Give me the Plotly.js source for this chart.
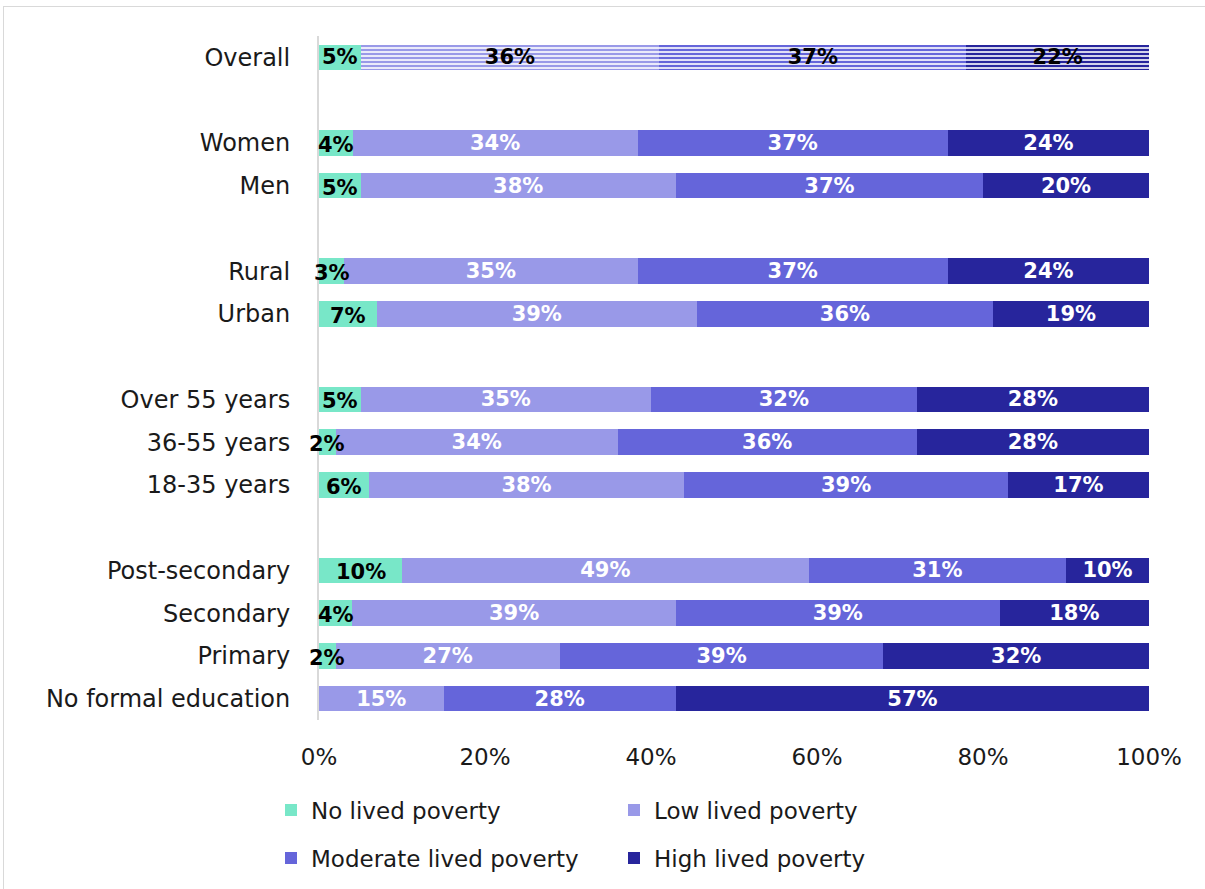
<!DOCTYPE html>
<html>
<head>
<meta charset="utf-8">
<script src="https://cdn.plot.ly/plotly-3.0.1.min.js"></script>
<style>
  html, body { margin: 0; padding: 0; background: #fff; }
  #wrap { position: relative; width: 1205px; height: 889px; overflow: hidden; }
  #frame { position: absolute; left: 3px; top: 6px; width: 1300px; height: 1000px; border-left: 1px solid #d9d9d9; border-top: 1px solid #d9d9d9; pointer-events: none; }
  #chart { position: absolute; left: 0; top: 0; width: 1205px; height: 889px; }
</style>
</head>
<body>
<div id="wrap">
  <div id="chart"></div>
  <div id="frame"></div>
</div>
<script>
// Categories (top to bottom); blank strings are group separators
const categories = ["Overall", " ", "Women", "Men", "  ", "Rural", "Urban", "   ",
  "Over 55 years", "36-55 years", "18-35 years", "    ",
  "Post-secondary", "Secondary", "Primary", "No formal education"];

const rowLabels = ["Overall", "Women", "Men", "Rural", "Urban",
  "Over 55 years", "36-55 years", "18-35 years",
  "Post-secondary", "Secondary", "Primary", "No formal education"];

const noPoverty       = [5, 4, 5, 3, 7, 5, 2, 6, 10, 4, 2, 0];
const lowPoverty      = [36, 34, 38, 35, 39, 35, 34, 38, 49, 39, 27, 15];
const moderatePoverty = [37, 37, 37, 37, 36, 32, 36, 39, 31, 39, 39, 28];
const highPoverty     = [22, 24, 20, 24, 19, 28, 28, 17, 10, 18, 32, 57];

const seriesNames = ["No lived poverty", "Low lived poverty", "Moderate lived poverty", "High lived poverty"];
const seriesColors = ["#78E7C8", "#9999E8", "#6565DA", "#27259C"];
const seriesValues = [noPoverty, lowPoverty, moderatePoverty, highPoverty];
const seriesLegend = ["legend", "legend", "legend2", "legend2"];

const xTickVals = [0, 20, 40, 60, 80, 100];
const xTickText = ["0%", "20%", "40%", "60%", "80%", "100%"];

const FONT = "DejaVu Sans, sans-serif";
const LABEL_SIZE = 21;
const traces = [];

// Main (solid) traces: all rows except Overall
seriesValues.forEach((vals, s) => {
  const ys = rowLabels.slice(1);
  const xs = vals.slice(1);
  traces.push({
    type: "bar", orientation: "h",
    name: seriesNames[s],
    legend: seriesLegend[s],
    y: ys, x: xs,
    // first series' labels are drawn as annotations on top so they can overlap the next segment
    text: s === 0 ? xs.map(() => "") : xs.map(v => v > 0 ? v + "%" : ""),
    textposition: "inside",
    insidetextanchor: "middle",
    constraintext: "none",
    textangle: 0,
    cliponaxis: false,
    textfont: { family: FONT, size: LABEL_SIZE, color: "#fff", weight: "bold" },
    marker: { color: seriesColors[s], line: { width: 0 } },
    hoverinfo: "skip"
  });
});

// Overall row (striped pattern, black labels)
seriesValues.forEach((vals, s) => {
  traces.push({
    type: "bar", orientation: "h",
    name: seriesNames[s],
    showlegend: false,
    y: [rowLabels[0]], x: [vals[0]],
    text: [vals[0] + "%"],
    textposition: "inside",
    insidetextanchor: "middle",
    constraintext: "none",
    textangle: 0,
    cliponaxis: false,
    textfont: { family: FONT, size: LABEL_SIZE, color: "#000", weight: "bold" },
    marker: s === 0
      ? { color: seriesColors[s], line: { width: 0 } }
      : { color: seriesColors[s], line: { width: 0 },
          pattern: { shape: "-", fillmode: "replace", bgcolor: "#ffffff", fgcolor: seriesColors[s], size: 4, solidity: 0.6 } },
    hoverinfo: "skip"
  });
});

// Labels of the "No lived poverty" segments, centred on the (normalised) segment
const totals = rowLabels.map((_, i) => seriesValues.reduce((a, arr) => a + arr[i], 0));
const noIdx = rowLabels.map((_, i) => i).filter(i => i > 0 && noPoverty[i] > 0);
const annotations = noIdx.map(i => ({
  xref: "x", yref: "y",
  x: noPoverty[i] / totals[i] * 100 / 2,
  y: rowLabels[i],
  text: noPoverty[i] + "%",
  showarrow: false,
  xanchor: "center", yanchor: "middle",
  yshift: -2,
  font: { family: FONT, size: LABEL_SIZE, color: "#000", weight: "bold" }
}));

const legendCommon = {
  orientation: "h",
  xref: "container", yref: "container",
  x: 271 / 1205, xanchor: "left",
  yanchor: "middle",
  entrywidth: 298, entrywidthmode: "pixels",
  font: { family: FONT, size: 23, color: "#1a1a1a" },
  traceorder: "normal",
  itemwidth: 30,
  bgcolor: "rgba(0,0,0,0)"
};

const layout = {
  width: 1205, height: 889,
  barmode: "stack",
  barnorm: "percent",
  bargap: 0.4,
  paper_bgcolor: "#fff", plot_bgcolor: "#fff",
  margin: { l: 319, r: 56, t: 36, b: 169 },
  font: { family: FONT, size: 23, color: "#1a1a1a" },
  xaxis: {
    range: [0, 100],
    tickvals: xTickVals, ticktext: xTickText,
    showgrid: false, zeroline: false, showline: false,
    ticks: "outside", ticklen: 16, tickcolor: "rgba(0,0,0,0)",
    tickfont: { family: FONT, size: 23, color: "#1a1a1a" },
    fixedrange: true
  },
  yaxis: {
    type: "category",
    categoryorder: "array", categoryarray: categories,
    autorange: "reversed",
    showgrid: false, zeroline: false,
    showline: true, linecolor: "#d9d9d9", linewidth: 2,
    layer: "below traces",
    ticks: "outside", ticklen: 22, tickcolor: "rgba(0,0,0,0)",
    tickfont: { family: FONT, size: 24, color: "#1a1a1a" },
    fixedrange: true
  },
  annotations: annotations,
  legend: Object.assign({}, legendCommon, { y: 1 - 810 / 889 }),
  legend2: Object.assign({}, legendCommon, { y: 1 - 858 / 889 }),
  showlegend: true
};

Plotly.newPlot("chart", traces, layout, { displayModeBar: false, staticPlot: true });
</script>
</body>
</html>
